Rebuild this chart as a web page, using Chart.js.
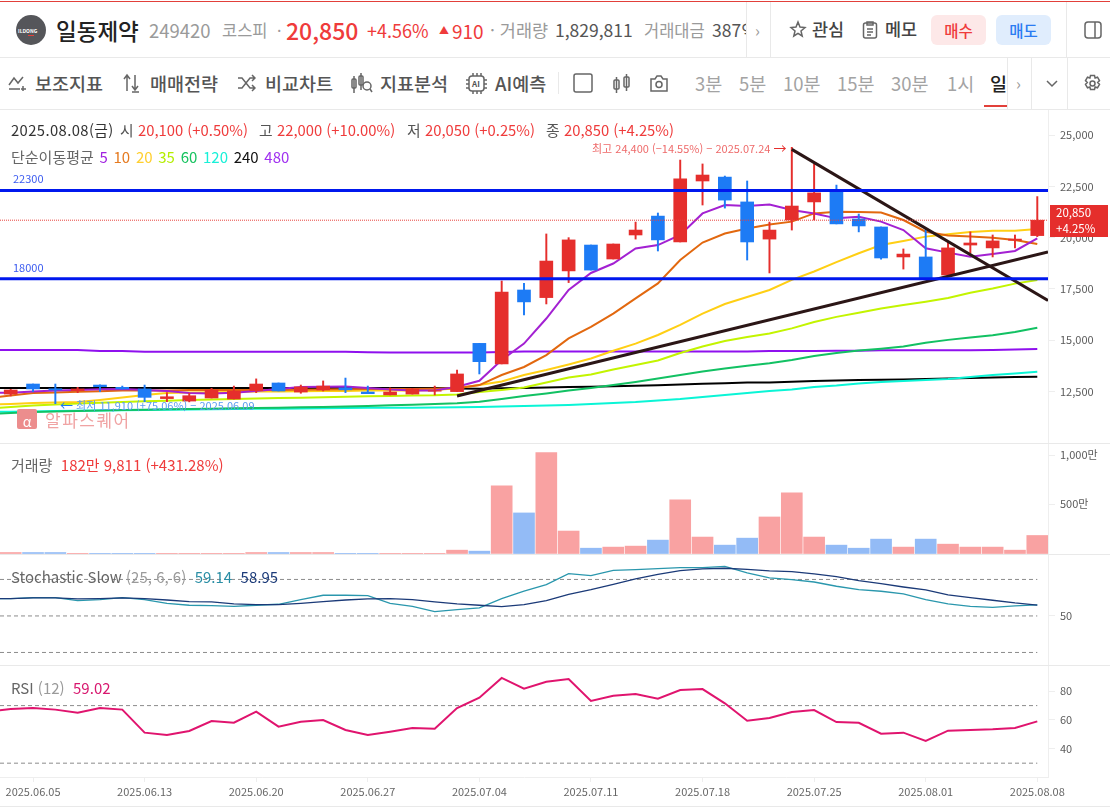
<!DOCTYPE html>
<html lang="ko">
<head>
<meta charset="utf-8">
<title>일동제약 차트</title>
<script src="https://cdn.jsdelivr.net/npm/chart.js@4"></script>
<style>
html, body { margin: 0; padding: 0; background: #fff; }
body { width: 1110px; height: 807px; overflow: hidden; position: relative; font-family: 'Noto Sans CJK KR', 'Noto Sans', sans-serif; color: #333; }
canvas { position: absolute; left: 0; }
.t { position: absolute; white-space: nowrap; line-height: 1; transform: translateY(-50%); }
.line { position: absolute; background: #e9e9e9; }
.gray { color: #9a9a9a; }
svg { position: absolute; fill: none; stroke: #666; stroke-width: 1.5; }
.tool { font-size: 18.5px; font-weight: 500; color: #555; top: 83px; }
.period { font-size: 18.5px; color: #a3a3a3; top: 83px; }
.legend { font-size: 15px; color: #666; }
.ohlc { font-size: 14.8px; color: #555; top: 130px; }
.red { color: #ef3b3b; }
</style>
</head>
<body>
<canvas id="mainChart" width="1110" height="333" style="top:110px"></canvas>
<canvas id="volumeChart" width="1110" height="111" style="top:443px"></canvas>
<canvas id="stochChart" width="1110" height="111" style="top:554px"></canvas>
<canvas id="rsiChart" width="1110" height="141" style="top:665px"></canvas>

<!-- top bar -->
<div class="line" style="left:0;top:1px;width:1110px;height:1px;background:#e2403a"></div>
<div class="line" style="left:0;top:57px;width:1110px;height:1px"></div>
<div class="line" style="left:0;top:109px;width:1110px;height:1px"></div>
<div class="line" style="left:746px;top:2px;width:1px;height:55px"></div>
<div class="line" style="left:770px;top:2px;width:1px;height:55px"></div>
<div class="line" style="left:1066px;top:2px;width:1px;height:55px"></div>
<div class="line" style="left:1007px;top:58px;width:1px;height:51px"></div>
<div class="line" style="left:1031px;top:58px;width:1px;height:51px"></div>
<div class="line" style="left:1067px;top:58px;width:1px;height:51px"></div>
<div class="line" style="left:558px;top:72px;width:1px;height:22px"></div>
<div class="line" style="left:984px;top:105px;width:23px;height:2px;background:#e2403a"></div>

<div style="position:absolute;left:16px;top:15px;width:30px;height:30px;border-radius:50%;background:#55565a"></div>
<div class="t" style="left:18px;top:30px;font-size:5px;font-weight:700;color:#fff">ILDONG</div>
<div class="line" style="left:28px;top:35px;width:6px;height:1px;background:#e2403a"></div>
<div class="t" style="left:56px;top:30px;font-size:22.500px;font-weight:500;color:#222">일동제약</div>
<div class="t gray" style="left:149px;top:30px;font-size:18.500px">249420</div>
<div class="t gray" style="left:222px;top:30px;font-size:16.500px">코스피</div>
<div class="t gray" style="left:277px;top:30px;font-size:16px">·</div>
<div class="t red" style="left:286px;top:30px;font-size:23px;font-weight:500">20,850</div>
<div class="t red" style="left:367px;top:30px;font-size:18px">+4.56%</div>
<div class="t red" style="left:439px;top:30px;font-size:10px">▲</div>
<div class="t red" style="left:452px;top:30px;font-size:19px">910</div>
<div class="t gray" style="left:490px;top:30px;font-size:17.500px">· 거래량</div>
<div class="t" style="left:555px;top:30px;font-size:17.500px;color:#555">1,829,811</div>
<div class="t gray" style="left:644px;top:30px;font-size:16.500px">거래대금</div>
<div style="position:absolute;left:712px;top:18px;width:34px;height:24px;overflow:hidden"><div class="t" style="left:0;top:12px;font-size:17.500px;color:#555">387억</div></div>
<div class="t gray" style="left:755px;top:30px;font-size:16px">›</div>
<svg style="left:789px;top:20px" width="18" height="18" viewBox="0 0 18 18"><path d="M9 2l2 5 5 .5-4 3.500 1.200 5L9 13.300 4.800 16 6 11 2 7.500l5-.5z"/></svg>
<div class="t" style="left:812px;top:29px;font-size:17.500px;font-weight:500;color:#444">관심</div>
<svg style="left:861px;top:20px" width="18" height="20" viewBox="0 0 18 20"><rect x="2.500" y="3" width="13" height="15" rx="2"/><path d="M6 2h6v3H6zM6 9h6M6 12h6M6 15h4"/></svg>
<div class="t" style="left:885px;top:29px;font-size:17.500px;font-weight:500;color:#444">메모</div>
<div class="t red" style="left:931px;top:30px;width:55px;height:30px;border-radius:6px;background:#fde8e8;font-size:15.500px;line-height:30px;text-align:center;font-weight:500">매수</div>
<div class="t" style="left:996px;top:30px;width:55px;height:30px;border-radius:6px;background:#e0edfd;color:#2a7bf2;font-size:15.500px;line-height:30px;text-align:center;font-weight:500">매도</div>
<svg style="left:1084px;top:21px" width="18" height="18" viewBox="0 0 18 18"><rect x="1" y="1" width="16" height="16" rx="3"/><path d="M11 1v16"/></svg>

<!-- toolbar -->
<svg style="left:8px;top:74px" width="19" height="18" viewBox="0 0 19 18"><path d="M1 11l5-7 4 5 5-6M1 15h11M15 12v5M13 15h5"/></svg>
<div class="t tool" style="left:35px">보조지표</div>
<svg style="left:122px;top:73px" width="19" height="20" viewBox="0 0 19 20"><path d="M5 18V3M2 6l3-4 3 4M13 2v14M10 13l3 4 3-4M10 19h7"/></svg>
<div class="t tool" style="left:150px">매매전략</div>
<svg style="left:237px;top:74px" width="19" height="18" viewBox="0 0 19 18"><path d="M1 4h4l8 10h4M1 14h4l8-10h4M15 1l3 3-3 3M15 11l3 3-3 3"/></svg>
<div class="t tool" style="left:265px">비교차트</div>
<svg style="left:351px;top:73px" width="22" height="20" viewBox="0 0 22 20"><rect x="1" y="6" width="4" height="9" rx="1"/><rect x="8" y="3" width="4" height="9" rx="1"/><path d="M3 3v17M10 0v17"/><circle cx="16" cy="13" r="4"/><path d="M19 16l2 3"/></svg>
<div class="t tool" style="left:380px">지표분석</div>
<svg style="left:465px;top:72px" width="23" height="23" viewBox="0 0 23 23"><rect x="4" y="4" width="15" height="15" rx="3"/><path d="M8 1v3M12 1v3M16 1v3M8 19v3M12 19v3M16 19v3M1 8h3M1 12h3M1 16h3M19 8h3M19 12h3M19 16h3"/></svg>
<div class="t" style="left:472px;top:84px;font-size:8px;font-weight:700;color:#555">AI</div>
<div class="t tool" style="left:495px">AI예측</div>
<svg style="left:572px;top:72px" width="22" height="22" viewBox="0 0 22 22"><rect x="2" y="2" width="18" height="18" rx="2"/></svg>
<svg style="left:612px;top:73px" width="20" height="22" viewBox="0 0 20 22"><rect x="2" y="7" width="5" height="9" rx="1"/><rect x="12" y="4" width="5" height="10" rx="1"/><path d="M4.500 4v16M14.500 1v17"/></svg>
<svg style="left:649px;top:74px" width="20" height="19" viewBox="0 0 20 19"><path d="M2 5h4l2-3h4l2 3h4v12H2z"/><circle cx="10" cy="10.500" r="3"/></svg>
<div class="t period" style="left:695px">3분</div>
<div class="t period" style="left:739px">5분</div>
<div class="t period" style="left:783px">10분</div>
<div class="t period" style="left:837px">15분</div>
<div class="t period" style="left:891px">30분</div>
<div class="t period" style="left:947px">1시</div>
<div class="t period" style="left:990px;color:#222;font-weight:500">일</div>
<div class="t gray" style="left:1016px;top:83px;font-size:16px">›</div>
<svg style="left:1046px;top:80px" width="12" height="8" viewBox="0 0 12 8"><path d="M1 1l5 5 5-5"/></svg>
<svg style="left:1083px;top:74px" width="19" height="19" viewBox="0 0 19 19"><path d="M7.500 1.500h4l.6 2.500 2.400-.8 2 3.400-1.800 1.900 1.800 1.900-2 3.400-2.400-.8-.6 2.500h-4l-.6-2.500-2.400.8-2-3.400L4.300 8.500 2.500 6.600l2-3.400 2.400.8z"/><circle cx="9.500" cy="9.500" r="2.500"/></svg>

<!-- pane borders -->
<div class="line" style="left:0;top:443px;width:1110px;height:1px"></div>
<div class="line" style="left:0;top:554px;width:1110px;height:1px"></div>
<div class="line" style="left:0;top:665px;width:1110px;height:1px"></div>
<div class="line" style="left:0;top:806px;width:1110px;height:1px"></div>

<!-- legends -->
<div class="t ohlc" style="left:11px;color:#333;letter-spacing:.4px">2025.08.08(금)</div>
<div class="t ohlc" style="left:120px">시</div>
<div class="t ohlc red" style="left:138px">20,100 (+0.50%)</div>
<div class="t ohlc" style="left:259px">고</div>
<div class="t ohlc red" style="left:277px">22,000 (+10.00%)</div>
<div class="t ohlc" style="left:407px">저</div>
<div class="t ohlc red" style="left:425px">20,050 (+0.25%)</div>
<div class="t ohlc" style="left:546px">종</div>
<div class="t ohlc red" style="left:564px">20,850 (+4.25%)</div>
<div class="t legend" style="left:11px;top:156px;word-spacing:1.500px">단순이동평균 <span style="color:#a020e0">5</span> <span style="color:#e57a20">10</span> <span style="color:#ffcf30">20</span> <span style="color:#b4ee00">35</span> <span style="color:#16c35f">60</span> <span style="color:#18f0d8">120</span> <span style="color:#111">240</span> <span style="color:#a030f0">480</span></div>
<div class="t" style="left:13px;top:178px;font-size:11px;color:#3a5af0">22300</div>
<div class="t" style="left:13px;top:267px;font-size:11px;color:#3a5af0">18000</div>
<div class="t" style="left:592px;top:147px;font-size:11px;color:#ee6a6a">최고 24,400 (−14.55%) − 2025.07.24 <span style="color:#e52e2c;font-size:13px">→</span></div>
<div class="t" style="left:60px;top:404px;font-size:11px;color:#5a9cf0"><span style="color:#1d7bf5;font-size:13px">←</span> 최저 11,910 (+75.06%) − 2025.06.09</div>
<div style="position:absolute;left:17px;top:409px;width:20px;height:20px;border-radius:2px;background:#ec8d8d;color:#fff;font-size:14px;line-height:24px;text-align:center">α</div>
<div class="t" style="left:45px;top:419px;font-size:17px;letter-spacing:1.500px;color:#f0a3a3">알파스퀘어</div>
<div style="position:absolute;left:1050px;top:205px;width:58px;height:32px;background:#e52e2c"></div>
<div class="t" style="left:1056px;top:213px;font-size:11.500px;color:#fff">20,850</div>
<div class="t" style="left:1056px;top:229px;font-size:11.500px;color:#fff">+4.25%</div>
<div class="t legend" style="left:11px;top:464px">거래량&nbsp; <span class="red">182만 9,811 (+431.28%)</span></div>
<div class="t legend" style="left:11px;top:576px">Stochastic Slow <span class="gray">(25, 6, 6)</span>&nbsp; <span style="color:#2a8ea5">59.14</span>&nbsp; <span style="color:#1b3a78">58.95</span></div>
<div class="t legend" style="left:11px;top:687px">RSI <span class="gray">(12)</span>&nbsp; <span style="color:#d8186f">59.02</span></div>

<script>
const dates = ['2025.06.02','2025.06.04','2025.06.05','2025.06.09','2025.06.10','2025.06.11','2025.06.12','2025.06.13',
    '2025.06.16','2025.06.17','2025.06.18','2025.06.19','2025.06.20','2025.06.23','2025.06.24','2025.06.25','2025.06.26','2025.06.27',
    '2025.06.30','2025.07.01','2025.07.02','2025.07.03','2025.07.04','2025.07.07','2025.07.08','2025.07.09','2025.07.10','2025.07.11',
    '2025.07.14','2025.07.15','2025.07.16','2025.07.17','2025.07.18','2025.07.21','2025.07.22','2025.07.23','2025.07.24','2025.07.25',
    '2025.07.28','2025.07.29','2025.07.30','2025.07.31','2025.08.01','2025.08.04','2025.08.05','2025.08.06','2025.08.07','2025.08.08'];

const opens = [12500,12380,12870,12640,12550,12820,12710,12630,12160,12040,12190,12140,12550,12920,12480,12580,12680,12480,12340,12380,12520,12500,
    14850,13850,17450,17080,18380,19640,18960,20130,21050,19790,22760,22950,21740,19930,20860,21740,22220,20910,20520,19060,19060,18180,19640,19500,19870,20100];
const highs = [12600,12610,12870,12870,12710,12830,12770,12820,12450,12420,12660,12770,13120,12920,12820,13020,13160,12770,12680,12660,12770,13550,
    14850,17890,17780,20180,20000,19640,19690,20760,21200,23780,23590,23000,22760,20760,24400,23590,22560,21150,20520,19450,20420,19790,20280,20130,20130,22000];
const lows = [12400,12290,12500,11910,12450,12500,12620,12010,12010,12000,12190,12140,12450,12530,12420,12530,12450,12400,12340,12380,12340,12500,
    13360,13850,16230,16770,17810,18420,18960,19930,19350,19790,21590,21440,18910,18280,20370,20860,20670,20280,18950,18470,17940,18180,19250,19060,19500,20050];
const closes = [12450,12580,12630,12580,12630,12740,12630,12220,12250,12300,12580,12530,12870,12530,12730,12770,12590,12400,12480,12630,12550,13360,
    13960,17350,16870,18860,19890,18420,19690,20370,19890,22860,23050,21830,19790,20370,21540,22180,20670,20570,19010,19200,17990,19500,19740,19840,19930,20850];

const ma5 = [12430,12450,12510,12550,12580,12610,12630,12580,12530,12430,12410,12450,12530,12630,12730,12740,12750,12680,12600,12560,12560,12740,
    13030,14040,14840,16060,17450,18280,18740,19470,19640,20130,21180,21590,21540,21610,21350,21180,20940,21020,20780,20370,19480,19270,19070,19200,19350,19970];
const ma10 = [12190,12310,12430,12460,12490,12520,12550,12560,12560,12580,12580,12580,12580,12580,12590,12600,12610,12630,12630,12630,12640,12660,
    12820,13310,13700,14280,15090,15650,16300,17040,17770,18910,19760,20200,20450,20640,20780,21180,21260,21250,21220,20860,20290,20100,20050,20000,19890,19690];
const ma20 = [11870,11900,11950,11970,11990,12090,12210,12340,12430,12460,12470,12480,12500,12510,12520,12530,12530,12550,12560,12560,12580,12660,
    12820,12990,13310,13550,13820,14110,14490,14840,15260,15750,16300,16770,17110,17450,17940,18350,18810,19240,19640,19840,20050,20160,20280,20340,20340,20420];
const ma35 = [11680,11750,11820,11870,11920,11960,11990,12030,12060,12090,12120,12140,12170,12190,12200,12230,12250,12270,12290,12310,12320,12360,
    12480,12580,12700,12940,13190,13330,13580,13800,14020,14380,14700,14970,15160,15330,15580,15890,16140,16340,16550,16720,16880,17060,17320,17520,17760,17940];
const ma60 = [11410,11460,11510,11530,11560,11580,11610,11620,11640,11650,11670,11690,11700,11720,11740,11750,11780,11800,11830,11860,11900,11930,
    12010,12140,12290,12410,12550,12680,12820,12970,13140,13310,13480,13630,13760,13880,14040,14240,14380,14500,14590,14700,14880,15020,15140,15250,15400,15610];
const ma120 = [11510,11520,11530,11560,11570,11580,11590,11610,11620,11630,11640,11650,11660,11670,11680,11690,11700,11710,11710,11720,11730,11740,
    11750,11780,11800,11820,11850,11900,11950,11990,12070,12140,12240,12340,12430,12530,12600,12730,12800,12900,12970,13020,13070,13120,13210,13310,13380,13470];
const ma240 = [12680,12680,12680,12680,12680,12680,12680,12680,12680,12680,12680,12680,12680,12680,12680,12680,12680,12680,12680,12680,12680,12650,
    12640,12660,12680,12700,12730,12740,12760,12790,12810,12850,12880,12910,12940,12950,12980,13020,13040,13070,13080,13090,13120,13140,13160,13190,13210,13230];
const ma480 = [14530,14530,14530,14530,14530,14480,14480,14440,14440,14440,14440,14440,14440,14440,14440,14440,14440,14420,14400,14400,14400,14400,
    14400,14430,14460,14460,14460,14460,14460,14460,14460,14460,14460,14460,14460,14480,14480,14480,14490,14490,14510,14510,14510,14510,14510,14530,14550,14580];

// volume in 만 shares
const volumes = [5,10,10,10,2,2,2,2,2,2,2,2,10,10,10,10,2,2,2,2,2,34,24,687,412,1024,228,54,65,75,136,544,167,85,156,371,616,167,85,54,146,65,146,95,65,65,34,183];

const stochK = [64.2,64.2,65.1,65.1,62.6,63.4,65.1,63.4,60.4,58.8,58.5,57.9,58.8,59.6,63.4,67.0,67.0,66.7,60.4,57.9,53.6,55.2,56.6,64.2,70.3,75.7,84.8,83.1,87.5,88.1,88.9,89.7,89.7,90.8,85.3,81.2,79.9,77.9,74.4,71.6,70.3,68.1,63.4,59.9,57.9,57.1,58.2,59.14];
const stochD = [64.2,64.2,64.8,64.8,64.0,64.2,64.8,64.2,63.1,61.8,61.5,59.9,59.3,59.3,60.4,61.8,63.1,64.0,64.2,63.4,61.5,59.9,58.8,57.7,59.3,62.6,67.8,71.6,76.0,80.4,84.2,87.2,88.6,89.2,88.3,87.0,86.4,84.5,82.3,79.0,76.6,73.8,71.4,67.3,65.1,62.9,60.7,58.95];
const rsi12 = [66,67.6,68.3,67.2,65.1,68.3,67.2,51.2,49.6,52.4,59.3,58.1,65.8,55.4,58.8,60,53.1,49.6,51.9,54.4,54.0,68.3,75.5,89.2,81.8,86.6,88.5,73.2,76.9,78.1,74.8,80.8,81.5,71.6,59.5,61.4,65.6,66.9,58.6,58.1,50.5,51.2,45.4,52.6,53.1,53.5,54.4,59.02];

const priceLevels = [22300, 18000];
const lastClose = 20850;
const trendUp = [['2025.07.03', 12290], ['2025.08.08', 19170]];
const trendDown = [['2025.07.24', 24300], ['2025.08.08', 17250]];
const stochBands = [80, 50, 20];
const rsiBands = [70, 30];

const priceTicks = [25000, 22500, 20000, 17500, 15000, 12500];
const volumeTicks = [1000, 500];
const stochTicks = [50];
const rsiTicks = [80, 60, 40];
const dateTicks = ['2025.06.05','2025.06.13','2025.06.20','2025.06.27','2025.07.04','2025.07.11','2025.07.18','2025.07.25','2025.08.01','2025.08.08'];

const FONT = "'Noto Sans CJK KR', 'Noto Sans', sans-serif";
const RED = '#e52e2c', BLUE = '#1d7bf5';
const X_MIN = 0.52, X_MAX = 47.48;

const last = dates.length - 1;
const isUp = dates.map((d, i) => closes[i] >= opens[i]);
const series = values => values.map((v, i) => ({ x: i, y: v }));
const level = (v, color, width, dash) => ({
    type: 'line', data: [{ x: X_MIN, y: v }, { x: X_MAX, y: v }],
    borderColor: color, borderWidth: width, borderDash: dash || [], pointRadius: 0, order: 0
});
const band = v => ({
    type: 'line', data: [{ x: X_MIN, y: v }, { x: last, y: v }],
    borderColor: '#8c8c8c', borderWidth: 1, borderDash: [4, 3], pointRadius: 0, order: 5
});
const maLine = (values, color, order) => ({
    type: 'line', data: series(values), borderColor: color, borderWidth: 2, pointRadius: 0, tension: 0, order: order
});
// the two hand drawn trend lines, extended to the right edge of the pane
const trendLine = points => {
    const [a, b] = points.map(([d, v]) => ({ x: dates.indexOf(d), y: v }));
    const slope = (b.y - a.y) / (b.x - a.x);
    return {
        type: 'line', order: 0, borderColor: '#2b1616', borderWidth: 3, pointRadius: 0,
        data: [a, { x: X_MAX, y: b.y + slope * (X_MAX - b.x) }]
    };
};

function makeOptions(yMin, yMax, yTicks, yFormat, showDates) {
    return {
        responsive: false,
        animation: false,
        events: [],
        layout: { padding: 0 },
        plugins: { legend: { display: false }, tooltip: { enabled: false } },
        scales: {
            x: {
                type: 'linear',
                offset: false,
                min: X_MIN,
                max: X_MAX,
                display: showDates,
                border: { color: '#eeeeee' },
                grid: { offset: false, drawOnChartArea: false, color: '#eeeeee', tickLength: 5 },
                afterBuildTicks: s => { s.ticks = dateTicks.map(d => ({ value: dates.indexOf(d) })); },
                afterFit: s => { if (showDates) s.height = 29; },
                ticks: {
                    autoSkip: false, maxRotation: 0, padding: 3, color: '#666',
                    font: { family: FONT, size: 11 },
                    callback: v => dates[v]
                }
            },
            y: {
                position: 'right',
                min: yMin,
                max: yMax,
                border: { color: '#eeeeee' },
                grid: { drawOnChartArea: false, color: '#eeeeee', tickLength: 7 },
                afterBuildTicks: s => { s.ticks = yTicks.map(v => ({ value: v })); },
                afterFit: s => { s.width = 62; s.paddingTop = 0; s.paddingBottom = 0; },
                ticks: {
                    padding: 5, color: '#5b5b5b',
                    font: { family: FONT, size: 11 },
                    callback: yFormat
                }
            }
        }
    };
}

new Chart(document.getElementById('mainChart'), {
    type: 'bar',
    data: {
        datasets: [
            ...priceLevels.map(v => level(v, '#0018ee', 3)),
            level(lastClose, '#e8403a', 1, [1, 1]),
            trendLine(trendUp),
            trendLine(trendDown),
            {
                data: dates.map((d, i) => ({ x: i, y: [opens[i], closes[i]] })),
                backgroundColor: isUp.map(u => u ? RED : BLUE),
                barThickness: 13, grouped: false, order: 1
            },
            {
                data: dates.map((d, i) => ({ x: i, y: [lows[i], highs[i]] })),
                backgroundColor: isUp.map(u => u ? RED : BLUE),
                barThickness: 1.3, grouped: false, order: 2
            },
            maLine(ma5, '#a321d2', 3),
            maLine(ma10, '#e2680f', 4),
            maLine(ma20, '#ffcf14', 5),
            maLine(ma35, '#c3f400', 6),
            maLine(ma60, '#12c163', 7),
            maLine(ma120, '#0af5d6', 8),
            maLine(ma240, '#000000', 9),
            maLine(ma480, '#8f10ee', 10)
        ]
    },
    options: makeOptions(9997, 26218, priceTicks, v => v.toLocaleString('en-US'), false)
});

new Chart(document.getElementById('volumeChart'), {
    type: 'bar',
    data: {
        datasets: [{
            data: series(volumes),
            backgroundColor: isUp.map(u => u ? '#f9a2a2' : '#93bbf6'),
            barThickness: 21
        }]
    },
    options: makeOptions(-5, 1122, volumeTicks, v => v.toLocaleString('en-US') + '만', false)
});

new Chart(document.getElementById('stochChart'), {
    type: 'line',
    data: {
        datasets: [
            ...stochBands.map(band),
            { data: series(stochK), borderColor: '#2a97ad', borderWidth: 1.3, pointRadius: 0, order: 2 },
            { data: series(stochD), borderColor: '#1b3a78', borderWidth: 1.3, pointRadius: 0, order: 1 }
        ]
    },
    options: makeOptions(9.7, 100.9, stochTicks, v => v, false)
});

new Chart(document.getElementById('rsiChart'), {
    type: 'line',
    data: {
        datasets: [
            ...rsiBands.map(band),
            { data: series(rsi12), borderColor: '#e0146e', borderWidth: 2, pointRadius: 0, order: 1 }
        ]
    },
    options: makeOptions(20.4, 98.2, rsiTicks, v => v, true)
});
</script>
</body>
</html>
